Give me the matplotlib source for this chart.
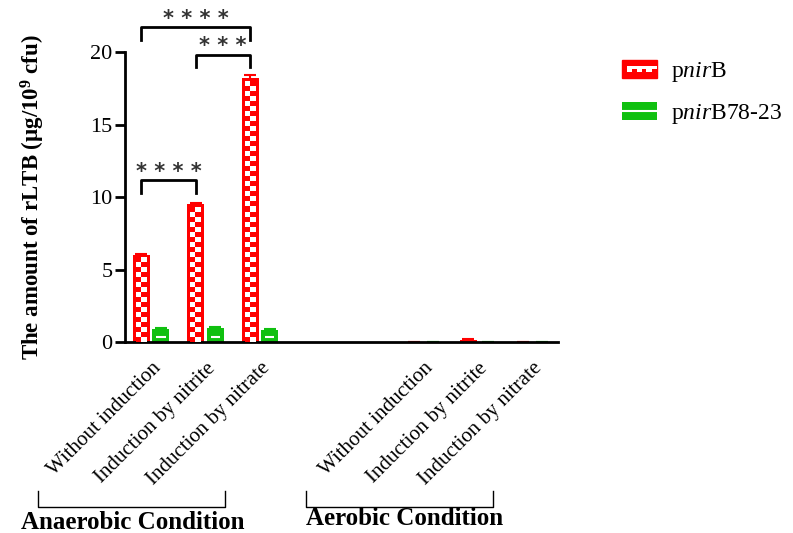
import numpy as np
import matplotlib
matplotlib.use('Agg')
import matplotlib.pyplot as plt
from matplotlib.colors import ListedColormap
from matplotlib.patches import Patch, Rectangle
from matplotlib.lines import Line2D
from matplotlib.legend_handler import HandlerBase, HandlerTuple
from matplotlib.transforms import ScaledTranslation

# data
categories = ['Without induction', 'Induction by nitrite', 'Induction by nitrate',
              'Without induction', 'Induction by nitrite', 'Induction by nitrate']
conditions = ['Anaerobic Condition', 'Aerobic Condition']
pnirB = [6.0, 9.5, 18.2, 0.0, 0.15, 0.0]
pnirB_err = [0.08, 0.08, 0.25, 0.0, 0.05, 0.0]
pnirB7823 = [0.9, 0.95, 0.8, 0.0, 0.0, 0.0]
pnirB7823_err = [0.1, 0.12, 0.08, 0.0, 0.0, 0.0]
sig_pairs = [(0, 2, '* * * *'), (1, 2, '* * *'), (0, 1, '* * * *')]
sig_heights = [20.85, 18.95, 10.3]

RED = '#FF0000'
GREEN = '#10C010'

plt.rcParams['font.family'] = 'Liberation Serif'
plt.rcParams['mathtext.fontset'] = 'custom'
plt.rcParams['mathtext.rm'] = 'Liberation Serif'
plt.rcParams['mathtext.it'] = 'Liberation Serif:italic'
plt.rcParams['mathtext.bf'] = 'Liberation Serif:bold'

fig = plt.figure(figsize=(7.93, 5.33), dpi=100)
ax = fig.add_axes([0.1576, 0.3583, 0.546, 0.544])

x = np.r_[np.arange(3), np.arange(3) + 5]
w = 0.31
off = 0.18

red_bars = ax.bar(x - off, pnirB, w, color=RED, zorder=2)
green_bars = ax.bar(x + off, pnirB7823, w, color=GREEN, zorder=2)
ax.errorbar(x - off, pnirB, yerr=pnirB_err, fmt='none', ecolor=RED,
            capsize=4, elinewidth=1.5, capthick=1.5, zorder=1)
ax.errorbar(x + off, pnirB7823, yerr=pnirB7823_err, fmt='none', ecolor=GREEN,
            capsize=4, elinewidth=1.5, capthick=1.5, zorder=1)

# checkerboard fill inside the red bars
cmap = ListedColormap([RED, 'white'])
cell = 0.345
for b in red_bars:
    h = b.get_height()
    if h < 1:
        continue
    inset = 0.055
    top = h - 0.2
    n = max(int(round(top / cell)), 1)
    arr = (np.arange(n)[:, None] + np.arange(2)[None, :]) % 2
    ax.imshow(arr, cmap=cmap, aspect='auto', interpolation='nearest',
              extent=[b.get_x() + inset, b.get_x() + b.get_width() - inset, 0, top],
              origin='lower', zorder=3)

# white line in the green bars
for b in green_bars:
    h = b.get_height()
    if h <= 0:
        continue
    ax.hlines(h * 0.4, b.get_x() + 0.07, b.get_x() + b.get_width() - 0.07,
              color='white', lw=1.5, zorder=3)

# significance brackets
for (i, j, stars), yb in zip(sig_pairs, sig_heights):
    x1, x2 = x[i] - off, x[j] - off
    ax.plot([x1, x1, x2, x2], [yb, yb + 0.85, yb + 0.85, yb], color='black',
            lw=2, clip_on=False, zorder=4)
    ax.text((x1 + x2) / 2, yb + 1.45, stars, ha='center', va='center',
            fontsize=15, color='#333333', family='DejaVu Sans',
            fontweight='bold', clip_on=False)

ax.set_xlim(-0.48, 7.47)
ax.set_ylim(0, 20)
ax.set_yticks([0, 5, 10, 15, 20])
ax.set_xticks(x)
ax.set_xticklabels(categories, rotation=45, ha='right', rotation_mode='anchor',
                   fontsize=15)
shift = ScaledTranslation(-4 / 72, 0, fig.dpi_scale_trans)
for lab in ax.get_xticklabels():
    lab.set_transform(lab.get_transform() + shift)
ax.tick_params(axis='x', length=0, pad=12)
ax.tick_params(axis='y', length=7, width=2, labelsize=16, pad=2)
for s in ['top', 'right']:
    ax.spines[s].set_visible(False)
for s in ['left', 'bottom']:
    ax.spines[s].set_linewidth(2)
ax.set_ylabel(r'The amount of rLTB (μg/10$^{\mathbf{9}}$ cfu)', fontsize=16.5,
              fontweight='bold', labelpad=31)

# condition brackets below the labels
for (x0, x1, xt, yt), name in zip([(0.048, 0.284, 0.168, 0.020),
                                   (0.386, 0.622, 0.510, 0.028)], conditions):
    fig.add_artist(Line2D([x0, x0, x1, x1], [0.078, 0.048, 0.048, 0.078],
                          transform=fig.transFigure, color='black', lw=1))
    fig.text(xt, yt, name, ha='center', va='center', fontsize=18,
             fontweight='bold')


class CheckerPatch(Patch):
    pass


class HandlerChecker(HandlerBase):
    def create_artists(self, legend, orig_handle, xdescent, ydescent,
                       width, height, fontsize, trans):
        arts = [Rectangle((-xdescent, -ydescent), width, height,
                          facecolor=RED, edgecolor=RED, transform=trans)]
        sq = height * 0.3
        for k in range(3):
            cx = -xdescent + width * (0.22 + 0.28 * k)
            arts.append(Rectangle((cx - sq / 2, -ydescent + height / 2 - sq / 2),
                                  sq, sq, facecolor='white', edgecolor='none',
                                  transform=trans))
            arts.append(Rectangle((cx + sq / 2, -ydescent + height / 2),
                                  sq * 0.9, sq * 0.6, facecolor='white',
                                  edgecolor='none', transform=trans))
        return arts


red_handle = CheckerPatch(facecolor=RED)
green_handle = (Patch(facecolor=GREEN), Line2D([], [], color='white', lw=1.5))
fig.legend([red_handle, green_handle],
           [r'p$\mathit{nir}$B', r'p$\mathit{nir}$B78-23'],
           handler_map={CheckerPatch: HandlerChecker(),
                        tuple: HandlerTuple(ndivide=1, pad=0)},
           loc='upper left', bbox_to_anchor=(0.757, 0.927), frameon=False,
           fontsize=17, handlelength=1.5, handleheight=0.8, labelspacing=0.75,
           handletextpad=0.6)

fig.savefig('out.png', dpi=100)
